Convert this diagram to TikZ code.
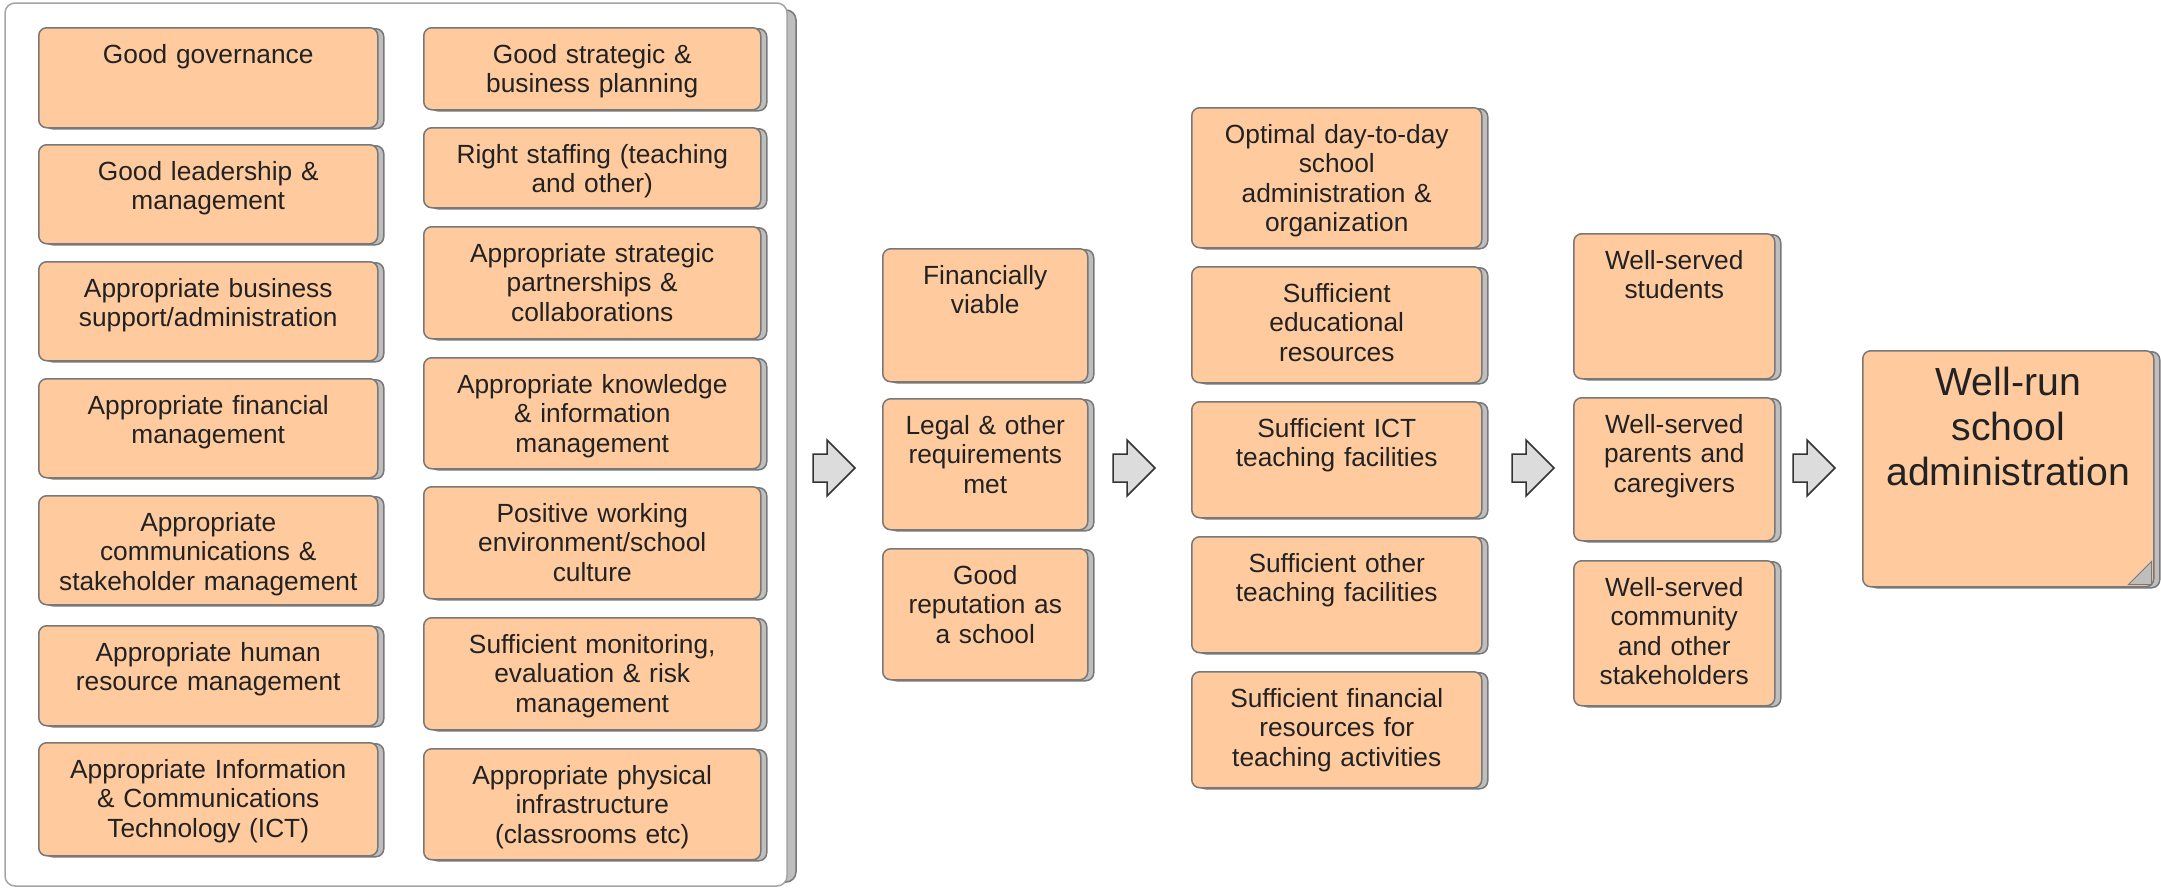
\documentclass[tikz,border=0pt]{standalone}
\usepackage{fontspec}
\setmainfont{Liberation Sans}
\usetikzlibrary{shadows}
\definecolor{peach}{RGB}{255,203,158}
\definecolor{boxedge}{RGB}{120,120,120}
\definecolor{shade}{RGB}{190,190,190}
\definecolor{ink}{RGB}{34,34,34}
\definecolor{framegray}{RGB}{165,165,165}
\definecolor{arrowfill}{RGB}{220,220,220}
\begin{document}
\begin{tikzpicture}[x=1pt, y=-1pt,
    every node/.style={text=ink, font=\fontsize{26.3}{29.2}\selectfont},
    goal/.style={rectangle, rounded corners=8pt, draw=boxedge, fill=peach, line width=1.5pt,
      anchor=north west, inner sep=0pt, align=center, text height=36pt,
      general shadow={fill=shade, draw=boxedge, line width=1.5pt, shadow xshift=6pt, shadow yshift=-1pt}},
    blockarrow/.style={draw=black!80, fill=arrowfill, line width=1.5pt, line join=miter}
  ]
  \useasboundingbox (0,0) rectangle (2161,889);

  % frame round the inputs
  \draw[draw=boxedge, fill=shade, line width=1.5pt, rounded corners=10pt] (14,10) rectangle (796,882);
  \draw[draw=framegray, fill=white, line width=1.5pt, rounded corners=10pt] (5,3) rectangle (787,886);

  % inputs, first column
  \node[goal, text width=339pt, text depth=64pt] (gov) at (38,27) {Good governance};
  \node[goal, text width=339pt, text depth=63pt] (lead) at (38,144) {Good leadership \&\\ management};
  \node[goal, text width=339pt, text depth=63pt] (bsup) at (38,261) {Appropriate business\\ support/administration};
  \node[goal, text width=339pt, text depth=63pt] (fin) at (38,378) {Appropriate financial\\ management};
  \node[goal, text width=339pt, text depth=73pt] (comm) at (38,495) {Appropriate\\ communications \&\\ stakeholder management};
  \node[goal, text width=339pt, text depth=64pt] (hr) at (38,625) {Appropriate human\\ resource management};
  \node[goal, text width=339pt, text depth=77pt] (ict) at (38,742) {Appropriate Information\\ \& Communications\\ Technology (ICT)};

  % inputs, second column
  \node[goal, text width=337pt, text depth=46pt] (plan) at (423,27) {Good strategic \&\\ business planning};
  \node[goal, text width=337pt, text depth=44pt] (staff) at (423,127) {Right staffing (teaching\\ and other)};
  \node[goal, text width=337pt, text depth=76pt] (part) at (423,226) {Appropriate strategic\\ partnerships \&\\ collaborations};
  \node[goal, text width=337pt, text depth=75pt] (know) at (423,357) {Appropriate knowledge\\ \& information\\ management};
  \node[goal, text width=337pt, text depth=76pt] (env) at (423,486) {Positive working\\ environment/school\\ culture};
  \node[goal, text width=337pt, text depth=76pt] (mon) at (423,617) {Sufficient monitoring,\\ evaluation \& risk\\ management};
  \node[goal, text width=337pt, text depth=75pt] (infra) at (423,748) {Appropriate physical\\ infrastructure\\ (classrooms etc)};

  % school standing
  \node[goal, text width=205pt, text depth=97pt] (viable) at (882,248) {Financially\\ viable};
  \node[goal, text width=205pt, text depth=95pt] (legal) at (882,398) {Legal \& other\\ requirements\\ met};
  \node[goal, text width=205pt, text depth=95pt] (repu) at (882,548) {Good\\ reputation as\\ a school};

  % running the school
  \node[goal, text width=290pt, text depth=104pt] (daily) at (1191,107) {Optimal day-to-day\\ school\\ administration \&\\ organization};
  \node[goal, text width=290pt, text depth=80pt] (edres) at (1191,266) {Sufficient\\ educational\\ resources};
  \node[goal, text width=290pt, text depth=80pt] (ictfac) at (1191,401) {Sufficient ICT\\ teaching facilities};
  \node[goal, text width=290pt, text depth=80pt] (othfac) at (1191,536) {Sufficient other\\ teaching facilities};
  \node[goal, text width=290pt, text depth=80pt] (finres) at (1191,671) {Sufficient financial\\ resources for\\ teaching activities};

  % who is served
  \node[goal, text width=201pt, text depth=109pt] (stud) at (1573,233) {Well-served\\ students};
  \node[goal, text width=201pt, text depth=107pt] (parent) at (1573,397) {Well-served\\ parents and\\ caregivers};
  \node[goal, text width=201pt, text depth=109pt] (commun) at (1573,560) {Well-served\\ community\\ and other\\ stakeholders};

  % outcome
  \node[goal, text width=291pt, text height=45pt, text depth=191pt,
        font=\fontsize{39.2}{45}\selectfont] (wellrun) at (1862,350) {Well-run\\ school\\ administration};
  \draw[draw=boxedge, fill=shade, line width=1pt]
    ([shift={(-26,-3)}]wellrun.south east) -- ([shift={(-3,-3)}]wellrun.south east)
    -- ([shift={(-3,-26)}]wellrun.south east) -- cycle;

  % block arrows between the stages
  \foreach \ax in {813,1113,1512,1793}
    \draw[blockarrow] (\ax,454) -- ++(14,0) -- ++(0,-14) -- ++(28,28) -- ++(-28,28)
      -- ++(0,-14) -- ++(-14,0) -- cycle;
\end{tikzpicture}
\end{document}
